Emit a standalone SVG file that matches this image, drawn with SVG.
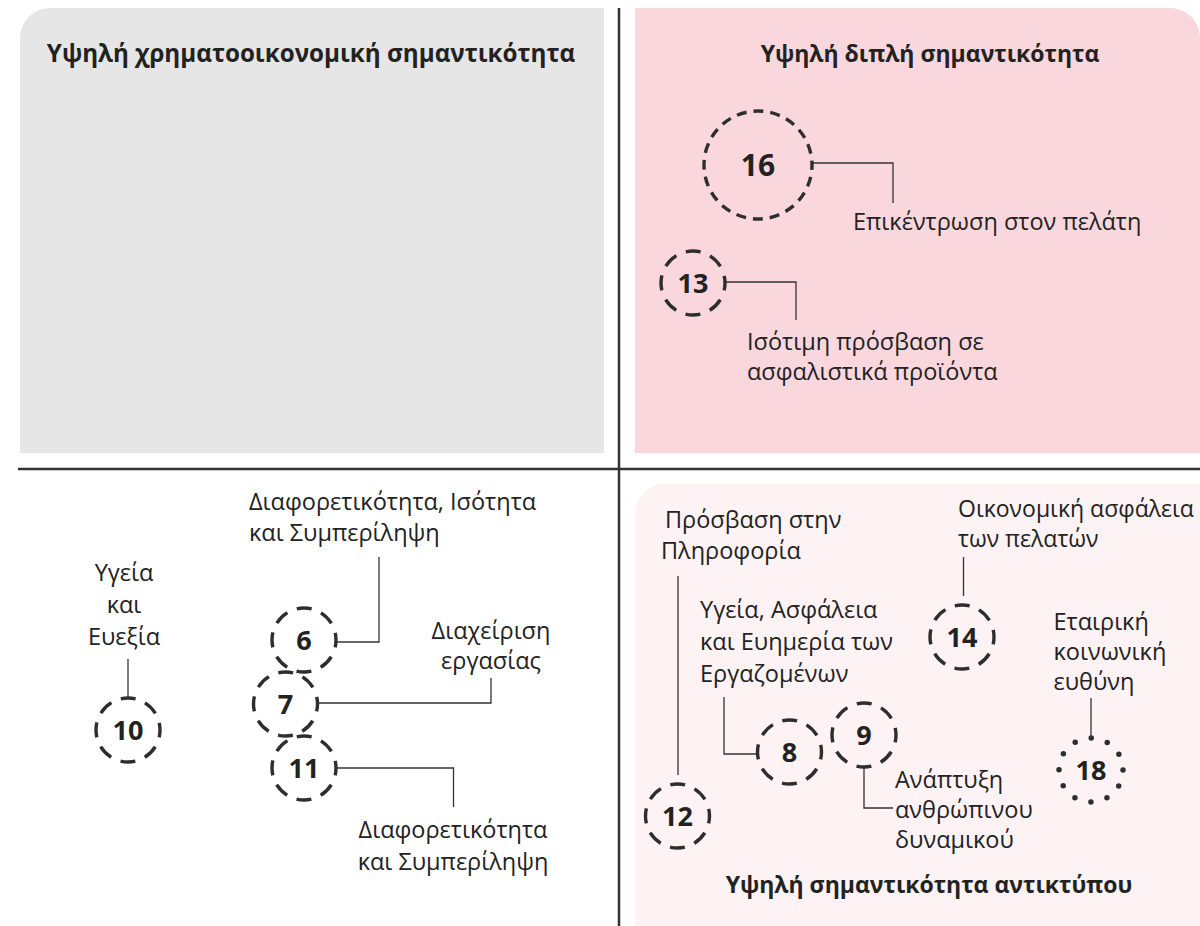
<svg xmlns="http://www.w3.org/2000/svg" width="1200" height="926" viewBox="0 0 1200 926">
<style>
text{font-family:"Open Sans","Liberation Sans",Arial,sans-serif;fill:#222;}
.t{font-size:23px;font-weight:bold;text-anchor:middle;}
.l{font-size:23.5px;}
.m{text-anchor:middle;}
.n{font-size:27px;font-weight:bold;text-anchor:middle;}
.c{fill:none;stroke:#2e2e2e;stroke-width:3.4;stroke-dasharray:15 10.13;stroke-dashoffset:7.5;}
.cb{fill:none;stroke:#2e2e2e;stroke-width:3.4;stroke-dasharray:10 6.965;stroke-dashoffset:5;}
.d{fill:none;stroke:#2e2e2e;stroke-width:5.5;stroke-linecap:round;stroke-dasharray:0 16.755;}
.k{fill:none;stroke:#333;stroke-width:1.3;}
.ax{stroke:#333;stroke-width:2.5;}
</style>
<g id="quadrants">
<path d="M20,453 V38 A30,30 0 0 1 50,8 H604 V453 Z" fill="#e6e6e6"/>
<path d="M635,8 H1170 A30,30 0 0 1 1200,38 V453 H635 Z" fill="#f9d7dd"/>
<path d="M635,926 V514 A30,30 0 0 1 665,484 H1200 V926 Z" fill="#fdf2f4"/>
<line class="ax" x1="619" y1="8" x2="619" y2="926"/>
<line class="ax" x1="18" y1="469" x2="1200" y2="469"/>
<text class="t" x="311" y="62" style="font-size:24.2px">Υψηλή χρηματοοικονομική σημαντικότητα</text>
<text class="t" x="930" y="62">Υψηλή διπλή σημαντικότητα</text>
<text class="t" x="929" y="893">Υψηλή σημαντικότητα αντικτύπου</text>
</g>
<g id="connectors">
<path class="k" d="M812,163 H893 V203"/>
<path class="k" d="M725,282 H796 V320"/>
<path class="k" d="M336,642 H379 V557"/>
<path class="k" d="M318,703 H491 V678"/>
<path class="k" d="M336,768 H453.5 V807"/>
<path class="k" d="M128,698 V659"/>
<path class="k" d="M678,576 V775"/>
<path class="k" d="M724,697 V754 H757"/>
<path class="k" d="M864,767 V808 H893"/>
<path class="k" d="M963.5,557 V596"/>
<path class="k" d="M1091,698 V737"/>
</g>
<g id="n16"><circle class="cb" cx="758" cy="165" r="54"/><text class="n" x="758" y="176" style="font-size:30px">16</text><text class="l" x="853" y="230">Επικέντρωση στον πελάτη</text></g>
<g id="n13"><circle class="c" cx="693" cy="283" r="32"/><text class="n" x="693" y="293">13</text><text class="l" x="747" y="350">Ισότιμη πρόσβαση σε</text><text class="l" x="747" y="380">ασφαλιστικά προϊόντα</text></g>
<g id="n6"><circle class="c" cx="304" cy="640" r="32"/><text class="n" x="304" y="650">6</text><text class="l" x="249" y="510">Διαφορετικότητα, Ισότητα</text><text class="l" x="249" y="541">και Συμπερίληψη</text></g>
<g id="n7"><circle class="c" cx="285.5" cy="704" r="32"/><text class="n" x="285.5" y="714">7</text><text class="l m" x="491" y="639">Διαχείριση</text><text class="l m" x="491" y="669">εργασίας</text></g>
<g id="n11"><circle class="c" cx="304" cy="768" r="32"/><text class="n" x="304" y="778">11</text><text class="l m" x="453" y="838">Διαφορετικότητα</text><text class="l m" x="453" y="870">και Συμπερίληψη</text></g>
<g id="n10"><circle class="c" cx="128" cy="730" r="32"/><text class="n" x="128" y="740">10</text><text class="l m" x="124" y="581">Υγεία</text><text class="l m" x="124" y="613">και</text><text class="l m" x="124" y="645">Ευεξία</text></g>
<g id="n12"><circle class="c" cx="677.5" cy="816" r="32"/><text class="n" x="677.5" y="826">12</text><text class="l" x="665" y="528">Πρόσβαση στην</text><text class="l" x="661" y="559">Πληροφορία</text></g>
<g id="n8"><circle class="c" cx="789.5" cy="752" r="32"/><text class="n" x="789.5" y="762">8</text><text class="l" x="700" y="618">Υγεία, Ασφάλεια</text><text class="l" x="700" y="650">και Ευημερία των</text><text class="l" x="700" y="682">Εργαζομένων</text></g>
<g id="n9"><circle class="c" cx="864" cy="735" r="32"/><text class="n" x="864" y="745">9</text><text class="l" x="895" y="788">Ανάπτυξη</text><text class="l" x="895" y="818">ανθρώπινου</text><text class="l" x="895" y="848">δυναμικού</text></g>
<g id="n14"><circle class="c" cx="962" cy="637" r="32"/><text class="n" x="962" y="647">14</text><text class="l" x="958" y="517" style="font-size:23px">Οικονομική ασφάλεια</text><text class="l" x="958" y="547" style="font-size:23px">των πελατών</text></g>
<g id="n18"><circle class="d" cx="1091" cy="770" r="32"/><text class="n" x="1091" y="780">18</text><text class="l" x="1053.5" y="630">Εταιρική</text><text class="l" x="1053.5" y="660">κοινωνική</text><text class="l" x="1053.5" y="690">ευθύνη</text></g>
</svg>
